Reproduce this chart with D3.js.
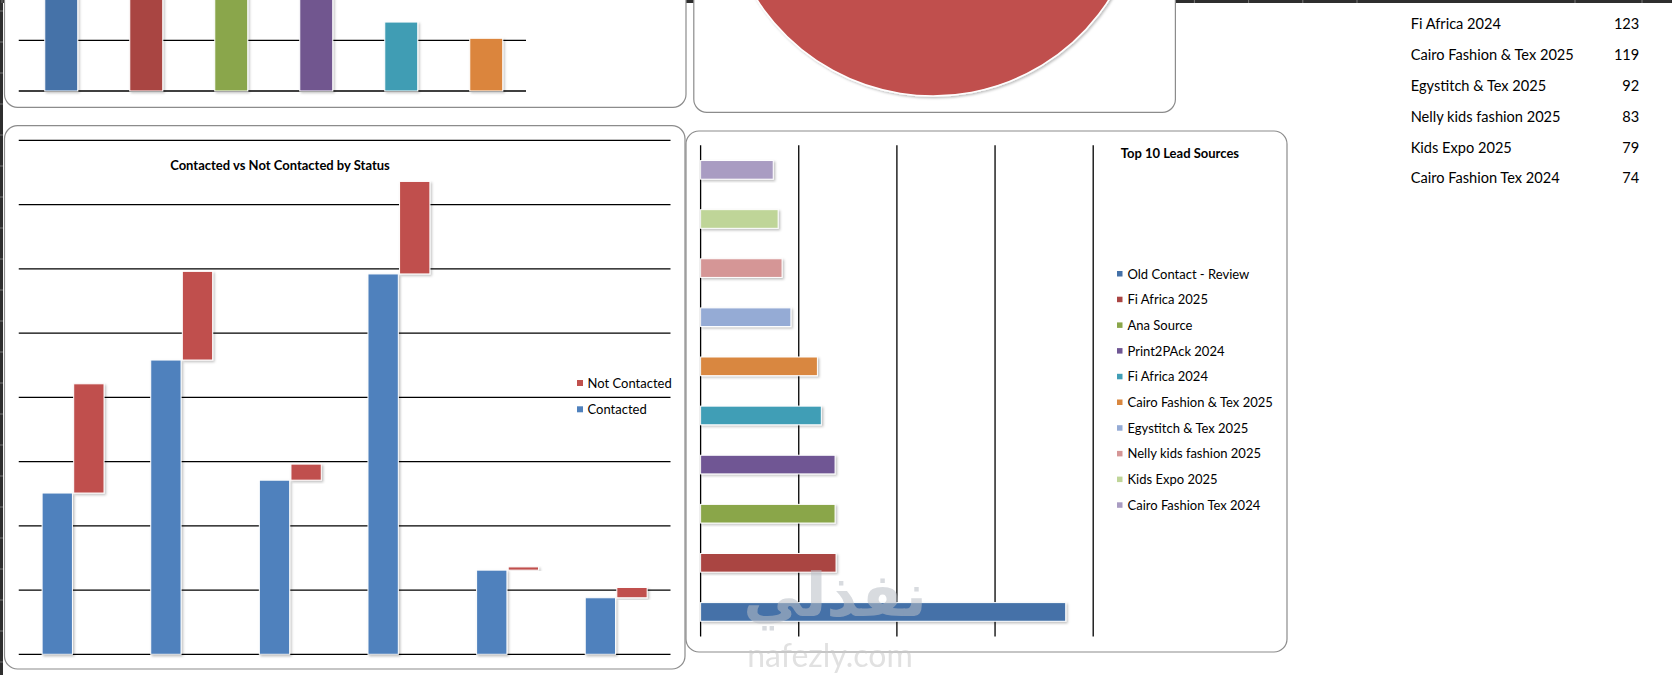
<!DOCTYPE html>
<meta charset="utf-8">
<style>
body{ margin: 0; background: #fff; overflow: hidden; }
text{ font-family: Lato, "Open Sans", sans-serif; fill: #000; }
.grid{ stroke: #000; stroke-width: 1.3; }
.panel{ fill: #fff; stroke: #8c8c8c; stroke-width: 1.2; }
.bar{ stroke: #fff; stroke-width: 1; }
</style>
<body>
<script src="https://d3js.org/d3.v7.min.js"></script>
<script>

var width = 1672,
    height = 675;

// statuses (their names are not visible in the picture)
var statuses = ["Status 1", "Status 2", "Status 3", "Status 4", "Status 5", "Status 6"];
var contacted = [251, 458, 271, 592, 131, 88];
var notContacted = [170, 138, 25, 144, 5, 16];
var statusTotals = [421, 596, 296, 736, 136, 104];
var statusColors = ["#4572a8", "#a94543", "#8aa64b", "#71578f", "#409db4", "#db853c"];

// pie: only the red slice is visible, the rest is off the top edge
var pieLabels = ["Slice 1", "Slice 2", "Slice 3"];
var pieValues = [30, 45, 25];
var pieColors = ["#4f81bd", "#c0504d", "#9bbb59"];

// top 10 lead sources
var leadSources = ["Old Contact - Review", "Fi Africa 2025", "Ana Source", "Print2PAck 2024",
    "Fi Africa 2024", "Cairo Fashion & Tex 2025", "Egystitch & Tex 2025",
    "Nelly kids fashion 2025", "Kids Expo 2025", "Cairo Fashion Tex 2024"];
var leadCounts = [372, 138, 137, 137, 123, 119, 92, 83, 79, 74];
var leadColors = ["#4471a8", "#aa4543", "#8aa64a", "#6f5694", "#409eb6", "#d9873f",
    "#95abd5", "#d59696", "#bfd598", "#a99cc2"];

// table on the right
var tableNames = ["Fi Africa 2024", "Cairo Fashion & Tex 2025", "Egystitch & Tex 2025",
    "Nelly kids fashion 2025", "Kids Expo 2025", "Cairo Fashion Tex 2024"];
var tableValues = [123, 119, 92, 83, 79, 74];

var svg = d3.select("body").append("svg")
    .attr("width", width)
    .attr("height", height);

var defs = svg.append("defs");
var shadow = defs.append("filter").attr("id", "shadow")
    .attr("x", "-20%").attr("y", "-20%").attr("width", "140%").attr("height", "140%");
shadow.append("feDropShadow")
    .attr("dx", 1.5).attr("dy", 1.5).attr("stdDeviation", 1.2)
    .attr("flood-color", "#000").attr("flood-opacity", 0.25);

defs.append("clipPath").attr("id", "cellclip")
  .append("rect").attr("x", 1400).attr("y", 0).attr("width", 175).attr("height", 200);

svg.append("rect").attr("width", width).attr("height", height).attr("fill", "#fff");

// sheet header edges
svg.append("rect").attr("x", 0).attr("y", 0).attr("width", width).attr("height", 3).attr("fill", "#2e2e2e");
svg.append("rect").attr("x", 0).attr("y", 0).attr("width", 3).attr("height", height).attr("fill", "#2e2e2e");
svg.selectAll(".colsep")
    .data(d3.range(2, 1410, 54.2).concat([1575, 1642]))
  .enter().append("line")
    .attr("x1", d => d).attr("x2", d => d)
    .attr("y1", 0).attr("y2", 3)
    .attr("stroke", "#777");
svg.selectAll(".rowsep")
    .data(d3.range(11, height, 31))
  .enter().append("line")
    .attr("y1", d => d).attr("y2", d => d)
    .attr("x1", 0).attr("x2", 3)
    .attr("stroke", "#777");

// panels
var panels = [
    [4.5, -300, 681.5, 407.3],
    [693.8, -300, 481.6, 412.3],
    [4.5, 125.7, 680.5, 543.3],
    [686, 131, 601, 521]
];
svg.selectAll(".panel")
    .data(panels)
  .enter().append("rect")
    .attr("class", "panel")
    .attr("x", d => d[0]).attr("y", d => d[1])
    .attr("width", d => d[2]).attr("height", d => d[3])
    .attr("rx", 13).attr("ry", 13);

// ---- top left: totals by status
var x1 = d3.scaleBand()
    .domain(statuses)
    .range([18.75, 528.75])
    .paddingInner(0.612)
    .paddingOuter(0.306);

var y1 = d3.scaleLinear()
    .domain([0, 800])
    .range([91, 91 - 405.6]);

var g1 = svg.append("g");
g1.selectAll(".grid")
    .data(y1.ticks(8))
  .enter().append("line")
    .attr("class", "grid")
    .attr("x1", 18.75).attr("x2", 526)
    .attr("y1", d => y1(d)).attr("y2", d => y1(d));

g1.selectAll(".bar")
    .data(statusTotals)
  .enter().append("rect")
    .attr("class", "bar")
    .attr("filter", "url(#shadow)")
    .attr("x", (d, i) => x1(statuses[i]))
    .attr("width", x1.bandwidth())
    .attr("y", d => y1(d))
    .attr("height", d => y1(0) - y1(d))
    .attr("fill", (d, i) => statusColors[i]);

// ---- top middle: pie
var pie = d3.pie().sort(null);
var arc = d3.arc().innerRadius(0).outerRadius(209);

svg.append("g")
    .attr("transform", "translate(933,-113)")
  .selectAll("path")
    .data(pie(pieValues))
  .enter().append("path")
    .attr("d", arc)
    .attr("fill", (d, i) => pieColors[i])
    .attr("stroke", "#fff")
    .attr("stroke-width", 1.5)
    .attr("filter", "url(#shadow)");

// ---- right: table
var tbl = svg.append("g");
tbl.selectAll(".tname")
    .data(tableNames)
  .enter().append("text")
    .attr("clip-path", "url(#cellclip)")
    .attr("x", 1410.7)
    .attr("y", (d, i) => 29.3 + i * 30.8)
    .style("font-size", "14.6px")
    .text(d => d);
tbl.selectAll(".tval")
    .data(tableValues)
  .enter().append("text")
    .attr("x", 1639.3)
    .attr("y", (d, i) => 29.3 + i * 30.8)
    .attr("text-anchor", "end")
    .style("font-size", "14.6px")
    .text(d => d);

// ---- bottom left: contacted vs not contacted by status
var x3 = d3.scaleBand()
    .domain(statuses)
    .range([18.75, 670.5])
    .paddingInner(0.43)
    .paddingOuter(0.215);

var keys = ["Contacted", "Not Contacted"];
var sub3 = d3.scaleBand()
    .domain(keys)
    .range([0, x3.bandwidth()])
    .paddingInner(0.04);

var y3 = d3.scaleLinear()
    .domain([0, 800])
    .range([654.3, 140.3]);

var color3 = d3.scaleOrdinal().domain(keys).range(["#4f81bd", "#c0504d"]);

var rows = statuses.map((s, i) => ({status: s, "Contacted": contacted[i], "Not Contacted": notContacted[i]}));
var stacked = d3.stack().keys(keys)(rows);

var g3 = svg.append("g");
g3.selectAll(".grid")
    .data(y3.ticks(8))
  .enter().append("line")
    .attr("class", "grid")
    .attr("x1", 18.75).attr("x2", 670.5)
    .attr("y1", d => y3(d)).attr("y2", d => y3(d));

g3.selectAll(".series")
    .data(stacked)
  .enter().append("g")
    .attr("fill", d => color3(d.key))
  .selectAll("rect")
    .data(d => d.map(v => ({key: d.key, v: v})))
  .enter().append("rect")
    .attr("class", "bar")
    .attr("filter", "url(#shadow)")
    .attr("x", d => x3(d.v.data.status) + sub3(d.key))
    .attr("width", sub3.bandwidth())
    .attr("y", d => y3(d.v[1]))
    .attr("height", d => y3(d.v[0]) - y3(d.v[1]));

g3.append("text")
    .attr("x", 280)
    .attr("y", 170)
    .attr("text-anchor", "middle")
    .style("font-size", "13px")
    .style("font-weight", "bold")
    .text("Contacted vs Not Contacted by Status");

var leg3 = g3.selectAll(".leg")
    .data(keys.slice().reverse())
  .enter().append("g")
    .attr("transform", (d, i) => "translate(577," + (383 + i * 26.3) + ")");
leg3.append("rect")
    .attr("x", 0).attr("y", -3).attr("width", 6).attr("height", 6)
    .attr("fill", d => color3(d));
leg3.append("text")
    .attr("x", 10.5).attr("y", 4.7)
    .style("font-size", "13px")
    .text(d => d);

// ---- bottom right: top 10 lead sources
var x4 = d3.scaleLinear()
    .domain([0, 400])
    .range([700.6, 1093.2]);

var y4 = d3.scaleBand()
    .domain(leadSources)
    .range([636.5, 145.3])
    .paddingInner(0.62)
    .paddingOuter(0.31);

var g4 = svg.append("g");
g4.selectAll(".grid")
    .data(x4.ticks(4))
  .enter().append("line")
    .attr("class", "grid")
    .attr("x1", d => x4(d)).attr("x2", d => x4(d))
    .attr("y1", 145.3).attr("y2", 636.5);

g4.selectAll(".bar")
    .data(leadCounts)
  .enter().append("rect")
    .attr("class", "bar")
    .attr("filter", "url(#shadow)")
    .attr("x", x4(0))
    .attr("y", (d, i) => y4(leadSources[i]))
    .attr("height", y4.bandwidth())
    .attr("width", d => x4(d) - x4(0))
    .attr("fill", (d, i) => leadColors[i]);

g4.append("text")
    .attr("x", 1120.7)
    .attr("y", 158)
    .style("font-size", "13px")
    .style("font-weight", "bold")
    .text("Top 10 Lead Sources");

var leg4 = g4.selectAll(".leg")
    .data(leadSources)
  .enter().append("g")
    .attr("transform", (d, i) => "translate(1117," + (274 + i * 25.7) + ")");
leg4.append("rect")
    .attr("x", 0).attr("y", -3).attr("width", 5.5).attr("height", 5.5)
    .attr("fill", (d, i) => leadColors[i]);
leg4.append("text")
    .attr("x", 10.5).attr("y", 4.5)
    .style("font-size", "13px")
    .text(d => d);

// watermark
var wm = svg.append("g").attr("opacity", 0.55);
wm.append("text")
    .attr("x", 835).attr("y", 616)
    .attr("text-anchor", "middle")
    .style("font-family", "'DejaVu Sans', sans-serif")
    .style("font-size", "60px")
    .style("font-weight", "bold")
    .style("fill", "#b9bec6")
    .text("نفذلي");
wm.append("text")
    .attr("x", 830).attr("y", 667)
    .attr("text-anchor", "middle")
    .style("font-size", "32px")
    .style("fill", "#c9c9c9")
    .text("nafezly.com");

</script>
